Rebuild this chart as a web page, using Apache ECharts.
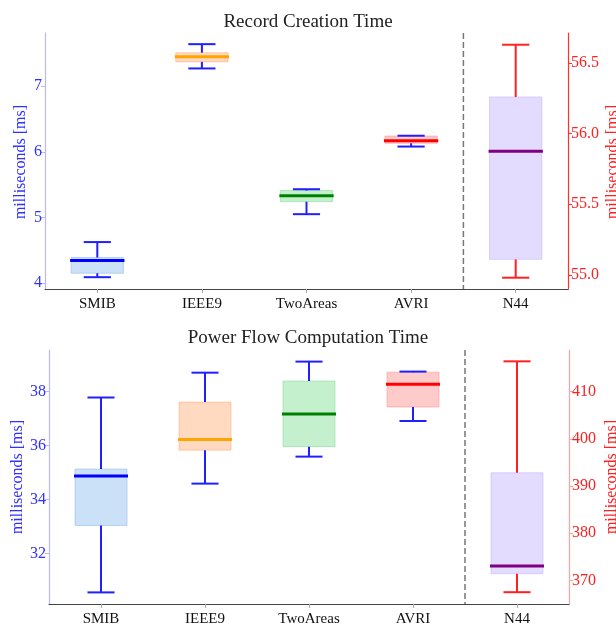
<!DOCTYPE html>
<html><head><meta charset="utf-8">
<script src="https://cdn.jsdelivr.net/npm/echarts@6/dist/echarts.min.js"></script>
<style>html,body{margin:0;padding:0;background:#fff}#c{width:616px;height:626px}</style>
</head><body><div id="c"></div>
<script>
const categories = ['SMIB', 'IEEE9', 'TwoAreas', 'AVRI', 'N44'];

// Record Creation Time (first four: left axis, N44: right axis)
const recordLow    = [4.09, 7.27, 5.05, 6.08, 54.98];
const recordQ1     = [4.15, 7.37, 5.24, 6.13, 55.11];
const recordMedian = [4.345, 7.45, 5.33, 6.17, 55.875];
const recordQ3     = [4.39, 7.51, 5.41, 6.24, 56.26];
const recordHigh   = [4.625, 7.64, 5.43, 6.245, 56.63];

// Power Flow Computation Time
const powerLow    = [30.56, 34.59, 35.59, 36.91, 367.5];
const powerQ1     = [33.04, 35.83, 35.96, 37.43, 371.4];
const powerMedian = [34.87, 36.22, 37.17, 38.27, 373.05];
const powerQ3     = [35.13, 37.61, 38.39, 38.72, 392.8];
const powerHigh   = [37.78, 38.70, 39.11, 38.74, 416.4];

const recordLeftTicks  = [4, 5, 6, 7];
const recordRightTicks = [55.0, 55.5, 56.0, 56.5];
const powerLeftTicks   = [32, 34, 36, 38];
const powerRightTicks  = [370, 380, 390, 400, 410];

const titles = ['Record Creation Time', 'Power Flow Computation Time'];
const axisName = 'milliseconds [ms]';

// styles
const fillColors   = ['rgba(160,200,240,0.55)', 'rgba(255,180,130,0.5)', 'rgba(140,225,155,0.5)', 'rgba(255,150,150,0.5)', 'rgba(200,185,255,0.5)'];
const edgeColors   = ['rgba(150,190,235,0.6)', 'rgba(255,170,120,0.5)', 'rgba(130,215,145,0.5)', 'rgba(255,140,140,0.5)', 'rgba(190,175,255,0.5)'];
const medianColors = ['#0000ff', '#ffa500', '#008000', '#ff0000', '#800080'];
const whiskerColors = ['#2020ff', '#2020ff', '#2020ff', '#2020ff', '#ff2020'];
const FONT = '"Liberation Serif", "DejaVu Serif", serif';

function rows(lo, q1, med, q3, hi, idxs) {
  return idxs.map(i => [i, lo[i], q1[i], med[i], q3[i], hi[i]]);
}

function renderBox(divider) {
  return function (params, api) {
    const ci = api.value(0);
    const cs = params.coordSys;
    const band = cs.width / categories.length;
    const cx = api.coord([ci, api.value(3)])[0];
    const yLo = api.coord([ci, api.value(1)])[1];
    const yQ1 = api.coord([ci, api.value(2)])[1];
    const yMed = api.coord([ci, api.value(3)])[1];
    const yQ3 = api.coord([ci, api.value(4)])[1];
    const yHi = api.coord([ci, api.value(5)])[1];
    const bw = band * 0.5, cap = band * 0.26;
    const wc = whiskerColors[ci];
    const ls = { stroke: wc, lineWidth: 2 };
    const children = [
      { type: 'rect', shape: { x: cx - bw / 2, y: yQ3, width: bw, height: yQ1 - yQ3 },
        style: { fill: fillColors[ci], stroke: edgeColors[ci], lineWidth: 1 } },
      { type: 'line', shape: { x1: cx, y1: yLo, x2: cx, y2: yQ1 }, style: ls },
      { type: 'line', shape: { x1: cx, y1: yQ3, x2: cx, y2: yHi }, style: ls },
      { type: 'line', shape: { x1: cx - cap / 2, y1: yLo, x2: cx + cap / 2, y2: yLo }, style: ls },
      { type: 'line', shape: { x1: cx - cap / 2, y1: yHi, x2: cx + cap / 2, y2: yHi }, style: ls },
      { type: 'line', shape: { x1: cx - bw / 2 - 1, y1: yMed, x2: cx + bw / 2 + 1, y2: yMed },
        style: { stroke: medianColors[ci], lineWidth: 3 } }
    ];
    if (divider) {
      const dx = cx - band / 2;
      children.unshift({ type: 'line', shape: { x1: dx, y1: cs.y, x2: dx, y2: cs.y + cs.height },
        style: { stroke: '#777', lineWidth: 1.5, lineDash: [6, 3] } });
    }
    return { type: 'group', children };
  };
}

function yAx(gi, side, min, max, ticks, color, lineColor, fmt) {
  return {
    type: 'value', gridIndex: gi, position: side, min, max,
    axisLine: { show: true, lineStyle: { color: lineColor, width: 1.2 } },
    axisTick: { show: true, customValues: ticks, length: 4, lineStyle: { color: lineColor } },
    axisLabel: { customValues: ticks, color, fontFamily: FONT, fontSize: 16, margin: 3,
      formatter: fmt || (v => String(v)) },
    splitLine: { show: false }
  };
}

function xAx(gi) {
  return {
    type: 'category', gridIndex: gi, data: categories,
    axisLine: { show: true, lineStyle: { color: '#444', width: 1.2 } },
    axisTick: { show: true, alignWithLabel: true, length: 4, lineStyle: { color: '#aaa' } },
    axisLabel: { color: '#111', fontFamily: FONT, fontSize: 15, margin: 8 },
    splitLine: { show: false }
  };
}

function nameText(x, y, color) {
  return { type: 'text', x, y, rotation: Math.PI / 2, silent: true,
    style: { text: axisName, fill: color, font: '16px ' + FONT, align: 'center', verticalAlign: 'middle' } };
}

const chart = echarts.init(document.getElementById('c'), null, { renderer: 'canvas' });
chart.setOption({
  animation: false,
  backgroundColor: '#fff',
  title: [
    { text: titles[0], left: 'center', top: 8, textStyle: { fontFamily: FONT, fontSize: 19, fontWeight: 'normal', color: '#222' } },
    { text: titles[1], left: 'center', top: 324, textStyle: { fontFamily: FONT, fontSize: 19, fontWeight: 'normal', color: '#222' } }
  ],
  grid: [
    { left: 45, width: 523, top: 33, height: 256, containLabel: false, outerBoundsMode: 'none' },
    { left: 49, width: 520, top: 350, height: 254, containLabel: false, outerBoundsMode: 'none' }
  ],
  graphic: [
    nameText(21, 162, '#3030ff'),
    nameText(613, 162, '#ff2020'),
    nameText(18, 477, '#3030ff'),
    nameText(612, 477, '#ff2020')
  ],
  xAxis: [xAx(0), xAx(1)],
  yAxis: [
    yAx(0, 'left', 3.91, 7.81, recordLeftTicks, '#3030ff', '#b8b8ff', null),
    yAx(0, 'right', 54.90, 56.713, recordRightTicks, '#ff2020', '#ff3030', v => v.toFixed(1)),
    yAx(1, 'left', 30.13, 39.54, powerLeftTicks, '#3030ff', '#b8b8ff', null),
    yAx(1, 'right', 365.0, 418.8, powerRightTicks, '#ff2020', '#ffa0a0', null)
  ],
  series: [
    { type: 'custom', xAxisIndex: 0, yAxisIndex: 0, renderItem: renderBox(false),
      data: rows(recordLow, recordQ1, recordMedian, recordQ3, recordHigh, [0, 1, 2, 3]) },
    { type: 'custom', xAxisIndex: 0, yAxisIndex: 1, renderItem: renderBox(true),
      data: rows(recordLow, recordQ1, recordMedian, recordQ3, recordHigh, [4]) },
    { type: 'custom', xAxisIndex: 1, yAxisIndex: 2, renderItem: renderBox(false),
      data: rows(powerLow, powerQ1, powerMedian, powerQ3, powerHigh, [0, 1, 2, 3]) },
    { type: 'custom', xAxisIndex: 1, yAxisIndex: 3, renderItem: renderBox(true),
      data: rows(powerLow, powerQ1, powerMedian, powerQ3, powerHigh, [4]) }
  ]
});
</script></body></html>
